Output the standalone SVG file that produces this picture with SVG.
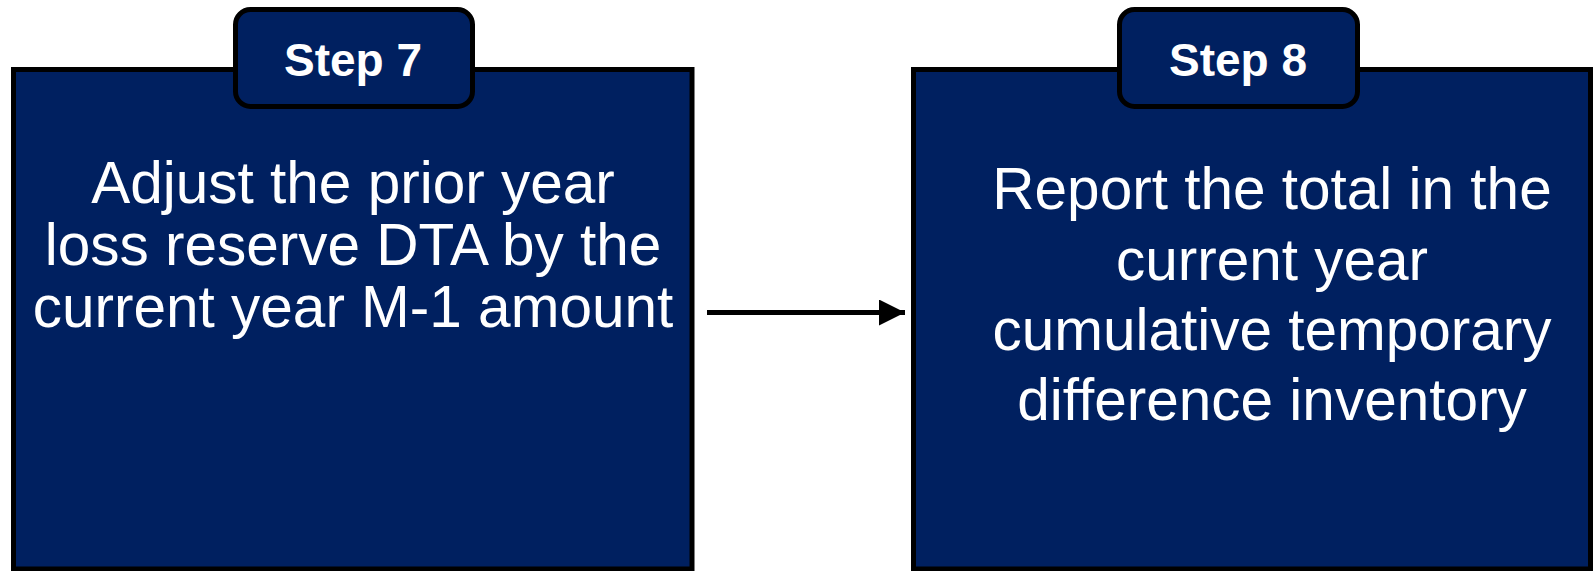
<svg xmlns="http://www.w3.org/2000/svg" width="1594" height="571" viewBox="0 0 1594 571">
  <style>
    .box { fill: #002060; stroke: #000000; stroke-width: 5; }
    .tab { fill: #002060; stroke: #000000; stroke-width: 5; }
    .tab-label { font-family: "Liberation Sans", Arial, sans-serif; font-weight: bold; font-size: 46px; fill: #ffffff; text-anchor: middle; }
    .body { font-family: "Liberation Sans", Arial, sans-serif; font-size: 58.5px; fill: #ffffff; text-anchor: middle; }
    .link { stroke: #000000; stroke-width: 5; fill: none; }
  </style>
  <defs>
    <marker id="arrowhead" markerUnits="userSpaceOnUse" markerWidth="28" markerHeight="28" refX="26" refY="13" orient="auto">
      <polygon points="0,0 26,13 0,26" fill="#000000"/>
    </marker>
  </defs>
  <rect width="1594" height="571" fill="#ffffff"/>

  <!-- Step 7 -->
  <g id="step7">
    <rect class="box" x="13.5" y="69.5" width="678.5" height="499.5"/>
    <rect class="tab" x="235.5" y="9.5" width="237" height="97" rx="15" ry="15"/>
    <text class="tab-label" x="353" y="75.5">Step 7</text>
    <text class="body" x="353" y="203">Adjust the prior year</text>
    <text class="body" x="353" y="265">loss reserve DTA by the</text>
    <text class="body" x="353" y="327">current year M-1 amount</text>
  </g>

  <!-- Step 8 -->
  <g id="step8">
    <rect class="box" x="913.5" y="69.5" width="677" height="499.5"/>
    <rect class="tab" x="1119.5" y="9.5" width="238" height="97" rx="15" ry="15"/>
    <text class="tab-label" x="1238" y="75.5">Step 8</text>
    <text class="body" x="1272" y="209">Report the total in the</text>
    <text class="body" x="1272" y="279.5">current year</text>
    <text class="body" x="1272" y="350">cumulative temporary</text>
    <text class="body" x="1272" y="420">difference inventory</text>
  </g>

  <!-- connectors -->
  <g id="connectors">
    <line class="link" x1="707" y1="312.5" x2="905" y2="312.5" marker-end="url(#arrowhead)"/>
  </g>
</svg>
